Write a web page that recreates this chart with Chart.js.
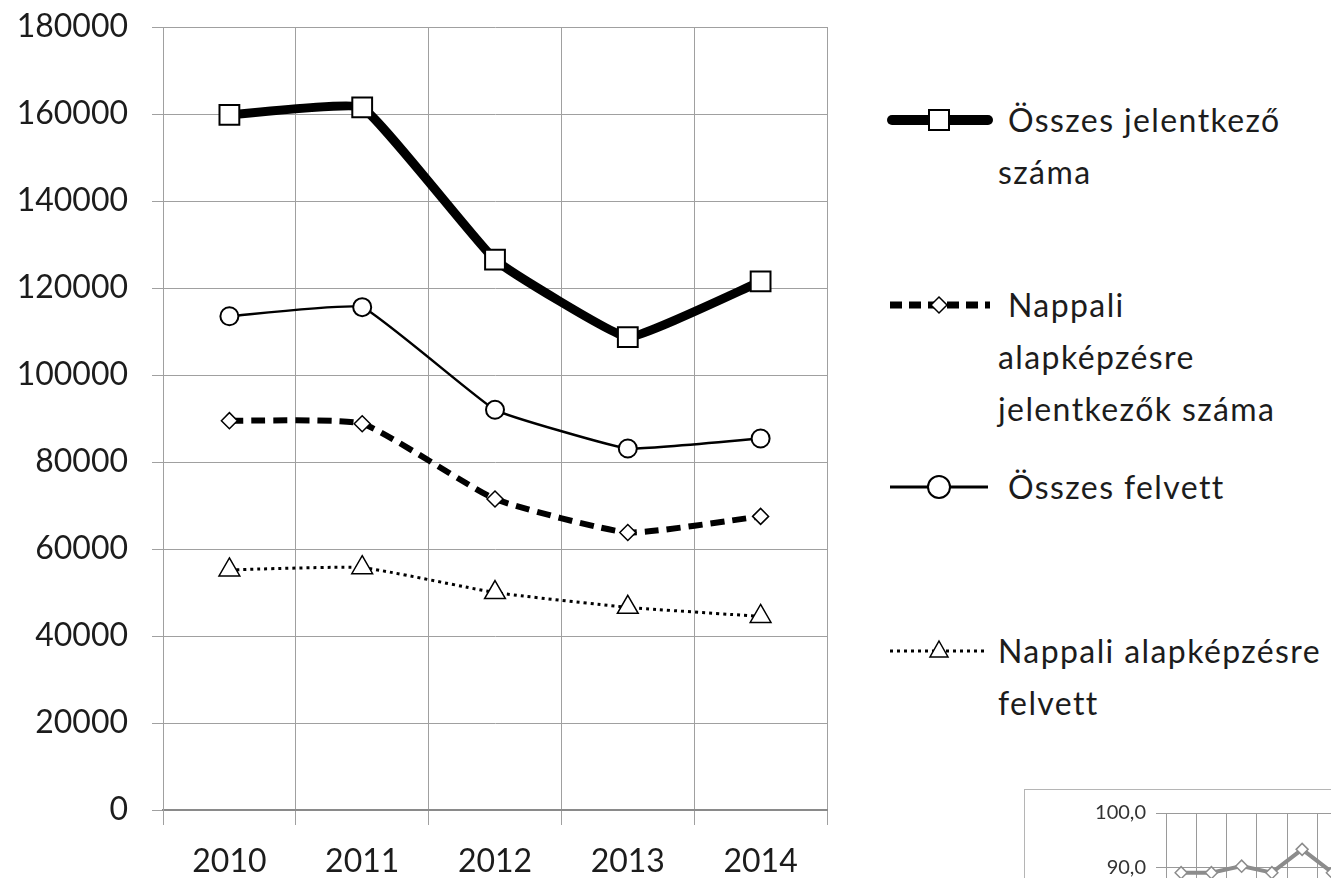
<!DOCTYPE html>
<html>
<head>
<meta charset="utf-8">
<script src="https://cdn.jsdelivr.net/npm/chart.js@4.4.1/dist/chart.umd.min.js"></script>
<style>
  html, body { margin: 0; padding: 0; background: #fff; width: 1331px; height: 878px; overflow: hidden; }
  #mainWrap { position: absolute; left: 0; top: 0; width: 860px; height: 878px; }
  #insetBox { position: absolute; left: 1024px; top: 789px; width: 400px; height: 300px; border: 1px solid #b5b5b5; background: #fff; }
  #insetWrap { position: absolute; left: 0; top: 0; width: 330px; height: 260px; }
  .leg { position: absolute; font-family: Lato, "Open Sans", sans-serif; font-size: 32px; letter-spacing: 1.4px; color: #1c1c1c; line-height: 52px; white-space: nowrap; }
  .leg .first { padding-left: 10px; }
  .sym { position: absolute; left: 884px; width: 110px; height: 30px; }
</style>
</head>
<body>
<div id="mainWrap"><canvas id="chart"></canvas></div>

<svg class="sym" style="top:105px" viewBox="0 0 110 30">
  <line x1="8" y1="15" x2="104" y2="15" stroke="#000" stroke-width="10" stroke-linecap="round"/>
  <rect x="45" y="5" width="20" height="20" fill="#fff" stroke="#000" stroke-width="2"/>
</svg>
<div class="leg" style="left:998px; top:94px"><span class="first">Összes jelentkező</span><br>száma</div>

<svg class="sym" style="top:290px" viewBox="0 0 110 30">
  <line x1="6" y1="15" x2="106" y2="15" stroke="#000" stroke-width="7" stroke-dasharray="12 7"/>
  <polygon points="55,7 63,15 55,23 47,15" fill="#fff" stroke="#000" stroke-width="1.5"/>
</svg>
<div class="leg" style="left:998px; top:279px"><span class="first">Nappali</span><br>alapképzésre<br>jelentkezők száma</div>

<svg class="sym" style="top:472px" viewBox="0 0 110 30">
  <line x1="6" y1="15" x2="104" y2="15" stroke="#000" stroke-width="3"/>
  <circle cx="55" cy="15" r="11" fill="#fff" stroke="#000" stroke-width="2"/>
</svg>
<div class="leg" style="left:998px; top:461px"><span class="first">Összes felvett</span></div>

<svg class="sym" style="top:635px" viewBox="0 0 110 30">
  <line x1="6" y1="16" x2="104" y2="16" stroke="#000" stroke-width="3" stroke-dasharray="3 4"/>
  <polygon points="55,6 64,22 46,22" fill="#fff" stroke="#000" stroke-width="1.5"/>
</svg>
<div class="leg" style="left:998px; top:625px">Nappali alapképzésre<br>felvett</div>

<div id="insetBox"><div id="insetWrap"><canvas id="inset"></canvas></div></div>

<script>
const years = ["2010", "2011", "2012", "2013", "2014"];
const osszesJelentkezo = [159800, 161500, 126500, 108700, 121500];
const nappaliJelentkezo = [89500, 88800, 71500, 63800, 67500];
const osszesFelvett = [113500, 115600, 92000, 83100, 85400];
const nappaliFelvett = [55200, 55700, 50000, 46600, 44500];
const yMin = 0, yMax = 180000, yStep = 20000;

// small chart in the corner, only the visible part
const insetLabels = ["", "", "", "", "", ""];
const insetValues = [89.0, 89.0, 90.2, 89.0, 93.3, 89.0];
const insetMin = 60, insetMax = 100, insetStep = 10;

const font = {family: "Lato, 'Open Sans', sans-serif", size: 32};
const gridColor = "#a0a0a0";

new Chart(document.getElementById("chart"), {
  type: "line",
  data: {
    labels: years,
    datasets: [
      {
        label: "Összes jelentkező száma",
        data: osszesJelentkezo,
        borderColor: "#000",
        borderWidth: 9,
        tension: 0.1,
        pointStyle: "rect",
        pointRadius: 14,
        pointBackgroundColor: "#fff",
        pointBorderColor: "#000",
        pointBorderWidth: 2
      },
      {
        label: "Nappali alapképzésre jelentkezők száma",
        data: nappaliJelentkezo,
        borderColor: "#000",
        borderWidth: 6,
        borderDash: [14, 8],
        tension: 0.15,
        pointStyle: "rectRot",
        pointRadius: 8,
        pointBackgroundColor: "#fff",
        pointBorderColor: "#000",
        pointBorderWidth: 1.5
      },
      {
        label: "Összes felvett",
        data: osszesFelvett,
        borderColor: "#000",
        borderWidth: 2.5,
        tension: 0.1,
        pointStyle: "circle",
        pointRadius: 9,
        pointBackgroundColor: "#fff",
        pointBorderColor: "#000",
        pointBorderWidth: 2
      },
      {
        label: "Nappali alapképzésre felvett",
        data: nappaliFelvett,
        borderColor: "#000",
        borderWidth: 3,
        borderDash: [3, 4],
        tension: 0.15,
        pointStyle: "triangle",
        pointRadius: 12,
        pointBackgroundColor: "#fff",
        pointBorderColor: "#000",
        pointBorderWidth: 1.5
      }
    ]
  },
  options: {
    responsive: true,
    maintainAspectRatio: false,
    animation: false,
    layout: { padding: { top: 27, right: 33, left: 0, bottom: 0 } },
    plugins: { legend: { display: false }, tooltip: { enabled: false } },
    scales: {
      x: {
        offset: true,
        grid: { offset: true, color: gridColor, tickLength: 15 },
        border: { color: "#8a8a8a", width: 2 },
        ticks: { font: font, color: "#1c1c1c", padding: 17 },
        afterFit: (s) => { s.height = 68; }
      },
      y: {
        min: yMin,
        max: yMax,
        grid: { color: gridColor, tickLength: 11 },
        border: { color: gridColor },
        ticks: { stepSize: yStep, font: font, color: "#1c1c1c", padding: 24, callback: (v) => String(v) },
        afterFit: (s) => { s.width = 163; s.paddingTop = 0; s.paddingBottom = 0; }
      }
    }
  }
});

new Chart(document.getElementById("inset"), {
  type: "line",
  data: {
    labels: insetLabels,
    datasets: [{
      data: insetValues,
      borderColor: "#8c8c8c",
      borderWidth: 4,
      tension: 0,
      pointStyle: "rectRot",
      pointRadius: 6,
      pointBackgroundColor: "#fff",
      pointBorderColor: "#8c8c8c",
      pointBorderWidth: 1.5
    }]
  },
  options: {
    responsive: true,
    maintainAspectRatio: false,
    animation: false,
    layout: { padding: { top: 23, right: 0, left: 0, bottom: 0 } },
    plugins: { legend: { display: false }, tooltip: { enabled: false } },
    scales: {
      x: {
        offset: true,
        grid: { offset: true, color: "#9a9a9a", tickLength: 0 },
        border: { color: "#9a9a9a" },
        ticks: { display: false },
        afterFit: (s) => { s.height = 20; }
      },
      y: {
        min: insetMin,
        max: insetMax,
        grid: { color: "#9a9a9a", tickLength: 10 },
        border: { color: "#9a9a9a" },
        ticks: { stepSize: insetStep, font: {family: "Lato, 'Open Sans', sans-serif", size: 20}, color: "#333", padding: 10,
          callback: (v) => v.toFixed(1).replace(".", ",") },
        afterFit: (s) => { s.width = 141; s.paddingTop = 0; s.paddingBottom = 0; }
      }
    }
  }
});
</script>
</body>
</html>
